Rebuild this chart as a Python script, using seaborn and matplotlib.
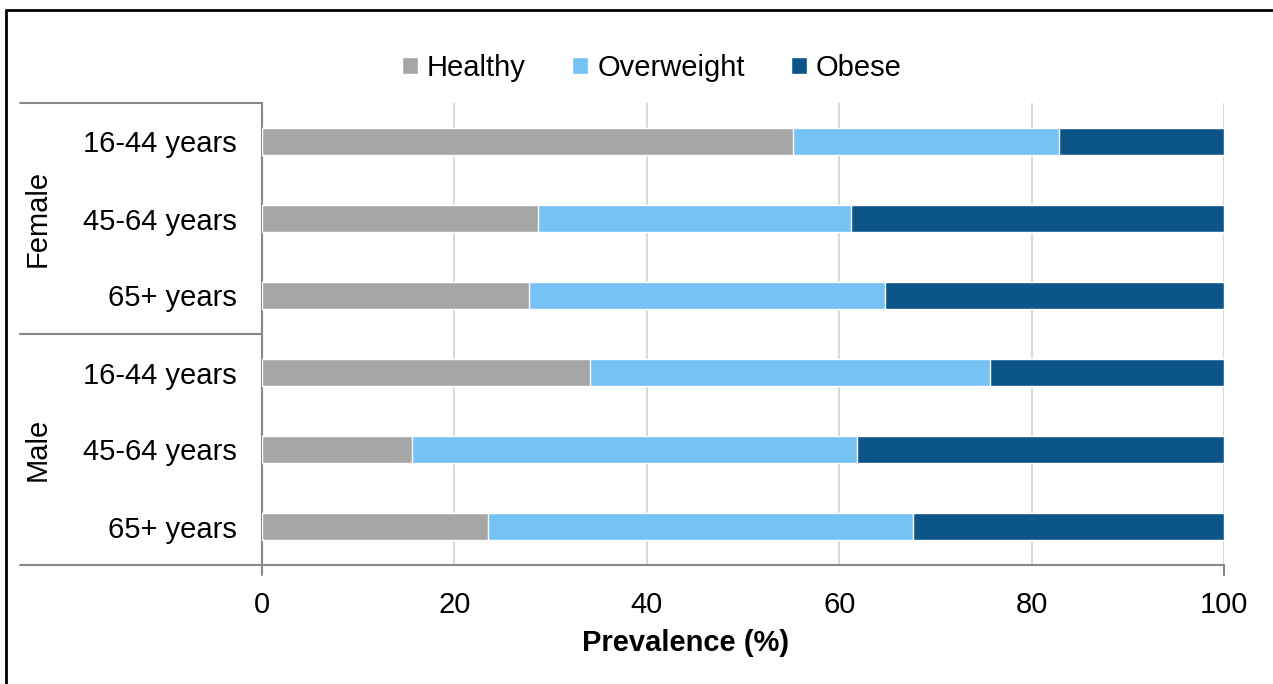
import numpy as np
import pandas as pd
import matplotlib
matplotlib.use("Agg")
import matplotlib.pyplot as plt
import seaborn as sns
from matplotlib.patches import Patch
from matplotlib.lines import Line2D

# --- data ---
sexes = ["Female", "Female", "Female", "Male", "Male", "Male"]
ages = ["16-44 years", "45-64 years", "65+ years", "16-44 years", "45-64 years", "65+ years"]
healthy = [55.2, 28.7, 27.8, 34.1, 15.6, 23.5]
overweight = [27.7, 32.5, 37.0, 41.6, 46.2, 44.2]
obese = [17.1, 38.8, 35.2, 24.3, 38.2, 32.3]

colors = {"Healthy": "#A6A6A6", "Overweight": "#76C2F5", "Obese": "#0B5588"}

df = pd.DataFrame({"sex": sexes, "age": ages, "Healthy": healthy,
                   "Overweight": overweight, "Obese": obese})
df["key"] = df["sex"] + " " + df["age"]
df["cum_hw"] = df["Healthy"] + df["Overweight"]
df["cum_all"] = df["cum_hw"] + df["Obese"]

sns.set_style("white")
plt.rcParams["font.family"] = ["Liberation Sans", "DejaVu Sans"]
plt.rcParams["text.color"] = "black"
plt.rcParams["xtick.color"] = "black"
plt.rcParams["ytick.color"] = "black"

FS = 21

fig = plt.figure(figsize=(12.73, 6.84), dpi=100)
ax = fig.add_axes([262 / 1273, 1 - 565 / 684, 962 / 1273, 462 / 684])

# stacked bars: draw cumulative totals back to front
for col, name in [("cum_all", "Obese"), ("cum_hw", "Overweight"), ("Healthy", "Healthy")]:
    sns.barplot(data=df, x=col, y="key", orient="h", color=colors[name],
                width=0.35, saturation=1, ax=ax, zorder=3)

ax.set_xlim(0, 100)
ax.set_ylim(5.5, -0.5)
ax.set_xticks(range(0, 101, 20))
ax.xaxis.grid(True, color="#D9D9D9", linewidth=1.5, zorder=0)
ax.set_axisbelow(True)
ax.set_yticks(range(len(df)))
ax.set_yticklabels(df["age"])
ax.set_xlabel("")
ax.set_ylabel("")
ax.tick_params(axis="y", length=0, pad=18, labelsize=FS, labelcolor="black")
ax.tick_params(axis="x", length=0, pad=19, labelsize=FS, labelcolor="black")

for s in ["top", "right"]:
    ax.spines[s].set_visible(False)
ax.spines["left"].set_visible(False)
ax.spines["bottom"].set_color("#888888")
ax.spines["bottom"].set_linewidth(1.5)

# category axis with group separators
left = (20 - 262) / 962
for yf in [1.0, 0.5, 0.0]:
    ax.add_line(Line2D([left, 0], [yf, yf], transform=ax.transAxes,
                       color="#888888", linewidth=1.5, clip_on=False))
ax.add_line(Line2D([0, 0], [-10 / 462, 1.0], transform=ax.transAxes,
                   color="#888888", linewidth=1.5, clip_on=False))
ax.add_line(Line2D([1, 1], [-10 / 462, 0], transform=ax.transAxes,
                   color="#888888", linewidth=1.5, clip_on=False))

fig.text(38 / 1273, 1 - 218 / 684, "Female", rotation=90, fontsize=FS,
         ha="center", va="center", color="black")
fig.text(38 / 1273, 1 - 449 / 684, "Male", rotation=90, fontsize=FS,
         ha="center", va="center", color="black")

fig.text(686 / 1273, 1 - 643 / 684, "Prevalence (%)", fontsize=FS,
         fontweight="bold", ha="center", va="center", color="black")

handles = [Patch(facecolor=colors[n], label=n) for n in ["Healthy", "Overweight", "Obese"]]
leg = fig.legend(handles=handles, loc="center", bbox_to_anchor=(652 / 1273, 1 - 68 / 684),
                 ncol=3, frameon=False, fontsize=FS, handlelength=0.55, handleheight=0.55,
                 handletextpad=0.3, columnspacing=1.6)
for t in leg.get_texts():
    t.set_color("black")

# outer frame (top and left edges visible)
fig.add_artist(Line2D([6 / 1273, 6 / 1273], [0, 1 - 10 / 684], transform=fig.transFigure,
                      color="black", linewidth=2))
fig.add_artist(Line2D([6 / 1273, 1], [1 - 10 / 684, 1 - 10 / 684], transform=fig.transFigure,
                      color="black", linewidth=2))

fig.savefig("out.png", dpi=100)
